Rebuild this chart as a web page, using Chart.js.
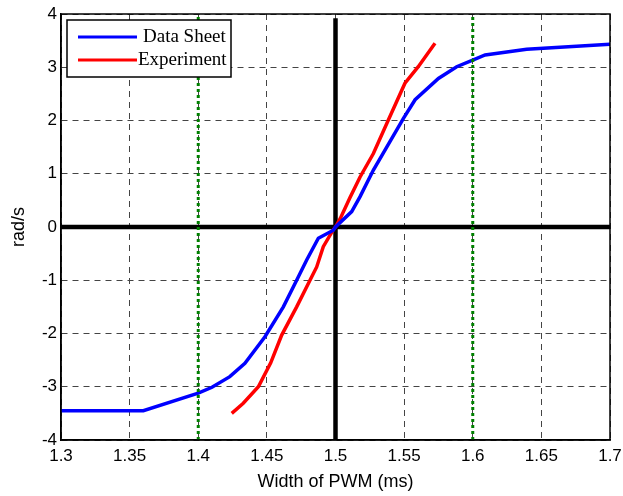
<!DOCTYPE html>
<html>
<head>
<meta charset="utf-8">
<script src="https://cdn.jsdelivr.net/npm/chart.js@4"></script>
<style>
  html, body { margin: 0; padding: 0; background: #fff; }
  #wrap { width: 623px; height: 496px; }
</style>
</head>
<body>
<div id="wrap"><canvas id="myChartPwm" width="623" height="496"></canvas></div>
<script>
// datos
const dataSheetX = [1.30, 1.36, 1.40, 1.41, 1.423, 1.434, 1.4486, 1.462, 1.4717, 1.479, 1.4875, 1.4984, 1.50,
  1.5118, 1.5179, 1.5276, 1.5495, 1.558, 1.575, 1.5883, 1.6004, 1.609, 1.6393, 1.70];
const dataSheetY = [-3.45, -3.45, -3.12, -3.01, -2.81, -2.56, -2.06, -1.50, -1.00, -0.62, -0.21, -0.06, 0,
  0.29, 0.57, 1.07, 2.04, 2.39, 2.79, 3.01, 3.14, 3.23, 3.34, 3.43];

const experimentX = [1.4244, 1.4328, 1.4438, 1.4528, 1.4608, 1.4717, 1.4814, 1.4863, 1.4911, 1.4984, 1.50,
  1.5035, 1.5105, 1.5179, 1.5276, 1.5385, 1.5506, 1.5603, 1.5725];
const experimentY = [-3.50, -3.31, -3.00, -2.55, -2.03, -1.50, -1.00, -0.75, -0.37, -0.05, 0,
  0.16, 0.55, 0.94, 1.38, 2.01, 2.70, 3.01, 3.45];

// lineas de referencia
const limitesX = [1.4, 1.6];
const ejeVerticalX = 1.5;
const ejeVerticalY = [-4, 3.92];
const ejeHorizontalX = [1.3, 1.7];

const xTicks = [1.3, 1.35, 1.4, 1.45, 1.5, 1.55, 1.6, 1.65, 1.7];
const yTicks = [-4, -3, -2, -1, 0, 1, 2, 3, 4];

const legendLabels = ["Data Sheet", "Experiment"];

const toPoints = (xs, ys) => xs.map((x, i) => ({ x: x, y: ys[i] }));

const ctxPwm = document.getElementById("myChartPwm").getContext("2d");

// marco negro y leyenda dentro del area
const framePlugin = {
  id: "frameLegend",
  afterDraw(chart) {
    const { ctx, chartArea: a } = chart;
    ctx.save();
    ctx.strokeStyle = "#000";
    ctx.lineWidth = 1.5;
    ctx.strokeRect(a.left, a.top, a.right - a.left, a.bottom - a.top);

    // leyenda
    const bx = 67, by = 20, bw = 164, bh = 57;
    ctx.fillStyle = "#fff";
    ctx.fillRect(bx, by, bw, bh);
    ctx.lineWidth = 1.5;
    ctx.strokeRect(bx, by, bw, bh);
    ctx.font = "19px 'Liberation Serif', 'Times New Roman', serif";
    ctx.textBaseline = "middle";
    ctx.textAlign = "left";
    const items = chart.data.datasets.filter((d) => legendLabels.includes(d.label));
    items.forEach((d, i) => {
      const yy = 37 + i * 23;
      ctx.strokeStyle = d.borderColor;
      ctx.lineWidth = 3;
      ctx.beginPath();
      ctx.moveTo(78, yy);
      ctx.lineTo(137, yy);
      ctx.stroke();
      ctx.fillStyle = "#000";
      ctx.fillText(d.label, i === 0 ? 143 : 138, yy);
    });
    ctx.restore();
  },
};

const myChartPwm = new Chart(ctxPwm, {
  type: "scatter",
  data: {
    datasets: [
      {
        label: "lim1",
        data: [{ x: limitesX[0], y: -4 }, { x: limitesX[0], y: 4 }],
        borderColor: "#008000",
        borderWidth: 3,
        borderDash: [3, 3],
      },
      {
        label: "lim2",
        data: [{ x: limitesX[1], y: -4 }, { x: limitesX[1], y: 4 }],
        borderColor: "#008000",
        borderWidth: 3,
        borderDash: [3, 3],
      },
      {
        label: "Data Sheet",
        data: toPoints(dataSheetX, dataSheetY),
        borderColor: "#0000ff",
        borderWidth: 3.5,
      },
      {
        label: "Experiment",
        data: toPoints(experimentX, experimentY),
        borderColor: "#ff0000",
        borderWidth: 3.5,
      },
      {
        label: "ejeV",
        data: [{ x: ejeVerticalX, y: ejeVerticalY[0] }, { x: ejeVerticalX, y: ejeVerticalY[1] }],
        borderColor: "#000",
        borderWidth: 4.5,
      },
      {
        label: "ejeH",
        data: [{ x: ejeHorizontalX[0], y: 0 }, { x: ejeHorizontalX[1], y: 0 }],
        borderColor: "#000",
        borderWidth: 4.5,
      },
    ].map((d) => Object.assign(d, { showLine: true, pointRadius: 0, fill: false, tension: 0 })),
  },
  options: {
    responsive: false,
    animation: false,
    events: [],
    layout: { padding: { left: 0, right: 13, top: 14, bottom: 0 } },
    plugins: {
      legend: { display: false },
      tooltip: { enabled: false },
    },
    scales: {
      x: {
        type: "linear",
        min: 1.3,
        max: 1.7,
        afterBuildTicks: (axis) => { axis.ticks = xTicks.map((v) => ({ value: v })); },
        afterFit: (axis) => {
          axis.height = 56;
          axis.paddingLeft = 0;
          axis.paddingRight = 0;
        },
        ticks: {
          color: "#000",
          font: { family: "'Liberation Sans', Arial, sans-serif", size: 17 },
          padding: 6,
          maxRotation: 0,
          callback: (v) => String(parseFloat(v.toFixed(2))),
        },
        grid: { color: "#444", lineWidth: 1, drawTicks: false },
        border: { display: true, color: "#000", width: 1.5, dash: [6, 5] },
        title: {
          display: true,
          text: "Width of PWM (ms)",
          color: "#000",
          font: { family: "'Liberation Sans', Arial, sans-serif", size: 18 },
          padding: { top: 0, bottom: 3 },
        },
      },
      y: {
        min: -4,
        max: 4,
        afterBuildTicks: (axis) => { axis.ticks = yTicks.map((v) => ({ value: v })); },
        afterFit: (axis) => {
          axis.width = 61;
          axis.paddingTop = 0;
          axis.paddingBottom = 0;
        },
        ticks: {
          color: "#000",
          font: { family: "'Liberation Sans', Arial, sans-serif", size: 17 },
          padding: 4,
        },
        grid: { color: "#444", lineWidth: 1, drawTicks: false },
        border: { display: true, color: "#000", width: 1.5, dash: [6, 5] },
        title: {
          display: true,
          text: "rad/s",
          color: "#000",
          font: { family: "'Liberation Sans', Arial, sans-serif", size: 18 },
          padding: { top: 8, bottom: 0 },
        },
      },
    },
  },
  plugins: [framePlugin],
});
</script>
</body>
</html>
